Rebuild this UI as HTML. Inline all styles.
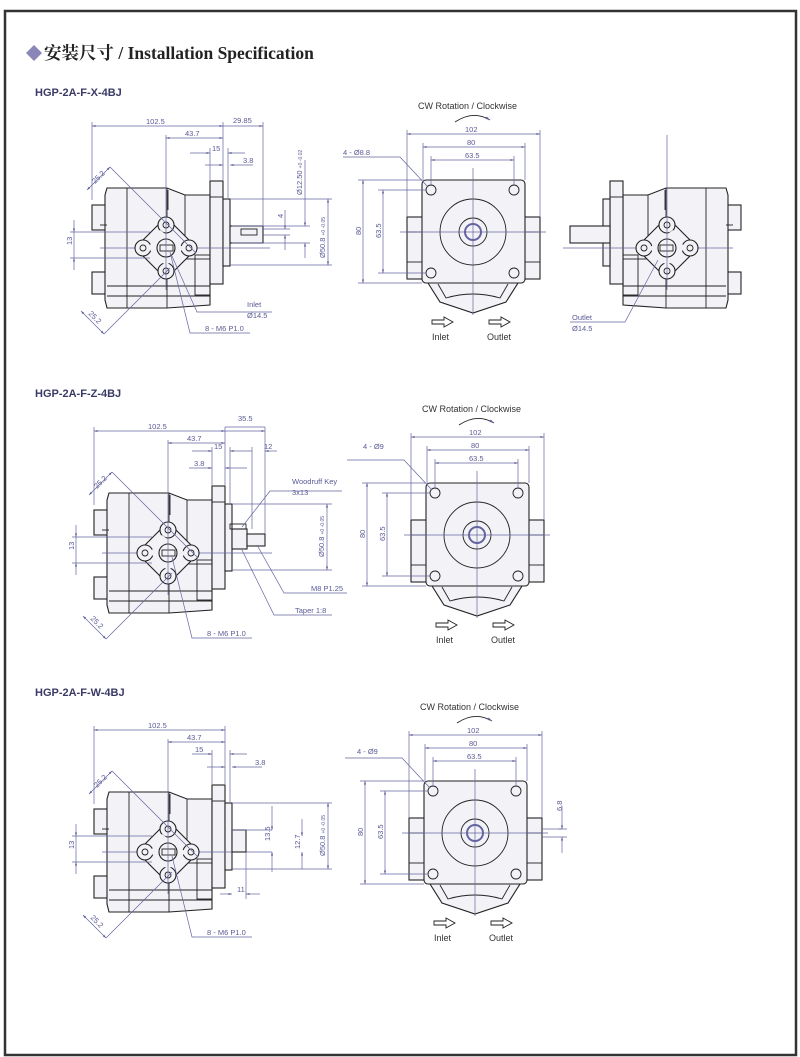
<!DOCTYPE html>
<html><head><meta charset="utf-8"><style>
html,body{margin:0;padding:0;background:#fff;}
body{width:800px;height:1057px;overflow:hidden;}
svg{display:block;}
.o{fill:#f3f3f7;stroke:#222;stroke-width:1.1;}
.n{fill:none;stroke:#222;stroke-width:0.9;}
.d{fill:none;stroke:#6464a0;stroke-width:0.7;}
.c{fill:none;stroke:#6464a0;stroke-width:0.7;}
.t{font-family:"Liberation Sans",sans-serif;font-size:7.5px;fill:#5a5a96;}
.l{font-family:"Liberation Sans",sans-serif;font-size:9px;fill:#333;}
.h{font-family:"Liberation Sans",sans-serif;font-size:11px;font-weight:bold;fill:#3a3a66;}
</style></head><body>
<svg width="800" height="1057" viewBox="0 0 800 1057" xmlns="http://www.w3.org/2000/svg">
<defs>
<marker id="a" viewBox="0 0 10 10" refX="10" refY="5" markerWidth="7" markerHeight="5" orient="auto-start-reverse"><path d="M0,2 L10,5 L0,8z" fill="#5a5a96"/></marker>
<g id="side">
 <rect class="o" x="92" y="205" width="14" height="25"/>
 <rect class="o" x="92" y="272" width="14" height="22"/>
 <path class="o" d="M105,195 L107,188 L167,188 L185,195 L210,195 L210,305 L167,308 L107,308 L105,300 Z"/>
 <line class="n" x1="127" y1="188" x2="127" y2="308"/>
 <line class="n" x1="100" y1="225" x2="107" y2="225"/>
 <line class="n" x1="107" y1="286" x2="210" y2="286"/>
 <line class="n" x1="107" y1="296" x2="210" y2="296"/>
 <line class="n" x1="167" y1="188" x2="167" y2="308"/>
 <rect class="n" x="185" y="195" width="25" height="64"/>
 <line class="n" x1="168" y1="190" x2="168" y2="210"/>
 <rect class="n" x="195" y="255" width="15" height="40"/>
 <rect class="o" x="210" y="181" width="13" height="103"/>
 <rect class="n" x="210" y="181" width="13" height="16"/>
 <rect class="o" x="223" y="199" width="7" height="67"/>
 <line class="c" x1="100" y1="248" x2="270" y2="248"/>
 <path class="o" d="M166,217 L197,248 L166,279 L135,248 Z"/>
 <circle class="o" cx="166" cy="225" r="8"/><circle class="o" cx="189" cy="248" r="8"/>
 <circle class="o" cx="166" cy="271" r="8"/><circle class="o" cx="143" cy="248" r="8"/>
 <path fill="#f3f3f7" d="M160,230 L184,248 L166,266 L148,248 Z"/>
 <circle class="n" cx="166" cy="225" r="3"/><circle class="n" cx="189" cy="248" r="3"/>
 <circle class="n" cx="166" cy="271" r="3"/><circle class="n" cx="143" cy="248" r="3"/>
 <circle class="o" cx="166" cy="248" r="9"/>
 <rect class="n" x="160" y="245" width="13" height="6"/>
 <line class="c" x1="166" y1="135" x2="166" y2="290"/>
</g>
<g id="front">
 <rect class="o" x="407" y="217" width="16" height="62"/>
 <rect class="o" x="524" y="217" width="16" height="62"/>
 <line class="n" x1="407" y1="232" x2="423" y2="232"/><line class="n" x1="407" y1="262" x2="423" y2="262"/>
 <line class="n" x1="524" y1="232" x2="540" y2="232"/><line class="n" x1="524" y1="262" x2="540" y2="262"/>
 <path class="o" d="M428,283 L440,302 L473,313 L506,302 L518,283 Z"/>
 <path class="n" d="M438,284 L446,298 Q473,290 500,298 L508,284"/>
 <rect class="o" x="422" y="180" width="103" height="103" rx="4"/>
 <circle class="n" cx="473" cy="232" r="33"/>
 <circle class="n" cx="473" cy="232" r="14"/>
 <circle fill="none" stroke="#6464a0" stroke-width="2" cx="473" cy="232" r="8"/>
 <circle class="n" cx="431" cy="190" r="5"/><circle class="n" cx="514" cy="190" r="5"/>
 <circle class="n" cx="431" cy="273" r="5"/><circle class="n" cx="514" cy="273" r="5"/>
 <line class="c" x1="400" y1="232" x2="546" y2="232"/>
 <line class="c" x1="473" y1="168" x2="473" y2="315"/>
 <text class="l" x="418" y="109">CW Rotation / Clockwise</text>
 <path d="M455,122 Q473,110 490,120" fill="none" stroke="#222" stroke-width="0.9" marker-end="url(#a)"/>
 <line class="d" x1="407" y1="134" x2="540" y2="134" marker-start="url(#a)" marker-end="url(#a)"/>
 <line class="d" x1="407" y1="130" x2="407" y2="217"/><line class="d" x1="540" y1="130" x2="540" y2="217"/>
 <text class="t" x="465" y="132">102</text>
 <line class="d" x1="423" y1="147" x2="525" y2="147" marker-start="url(#a)" marker-end="url(#a)"/>
 <line class="d" x1="423" y1="143" x2="423" y2="180"/><line class="d" x1="525" y1="143" x2="525" y2="180"/>
 <text class="t" x="467" y="145">80</text>
 <line class="d" x1="431" y1="160" x2="514" y2="160" marker-start="url(#a)" marker-end="url(#a)"/>
 <line class="d" x1="431" y1="156" x2="431" y2="186"/><line class="d" x1="514" y1="156" x2="514" y2="186"/>
 <text class="t" x="465" y="158">63.5</text>
 <line class="d" x1="363" y1="180" x2="363" y2="283" marker-start="url(#a)" marker-end="url(#a)"/>
 <line class="d" x1="358" y1="180" x2="422" y2="180"/><line class="d" x1="358" y1="283" x2="422" y2="283"/>
 <text class="t" transform="translate(361,235) rotate(-90)">80</text>
 <line class="d" x1="383" y1="190" x2="383" y2="273" marker-start="url(#a)" marker-end="url(#a)"/>
 <line class="d" x1="378" y1="190" x2="426" y2="190"/><line class="d" x1="378" y1="273" x2="426" y2="273"/>
 <text class="t" transform="translate(381,238) rotate(-90)">63.5</text>
 <path class="d" d="M343,157 L400,157 L428,187"/>
 <path d="M432,320 h12 v-3 l9,5 l-9,5 v-3 h-12z" fill="#fff" stroke="#222" stroke-width="0.9"/>
 <path d="M489,320 h12 v-3 l9,5 l-9,5 v-3 h-12z" fill="#fff" stroke="#222" stroke-width="0.9"/>
 <text class="l" x="432" y="340">Inlet</text><text class="l" x="487" y="340">Outlet</text>
</g>
<g id="sidedim">
 <line class="d" x1="92" y1="126" x2="223" y2="126" marker-start="url(#a)" marker-end="url(#a)"/>
 <line class="d" x1="92" y1="122" x2="92" y2="200"/><line class="d" x1="223" y1="122" x2="223" y2="180"/>
 <text class="t" x="146" y="124">102.5</text>
 <line class="d" x1="166" y1="138" x2="223" y2="138" marker-start="url(#a)" marker-end="url(#a)"/>
 <text class="t" x="185" y="136">43.7</text>
 <line class="d" x1="74" y1="232" x2="74" y2="258"/>
 <line class="d" x1="74" y1="220" x2="74" y2="232" marker-end="url(#a)"/>
 <line class="d" x1="74" y1="270" x2="74" y2="258" marker-end="url(#a)"/>
 <line class="d" x1="70" y1="232" x2="150" y2="232"/><line class="d" x1="70" y1="258" x2="150" y2="258"/>
 <text class="t" transform="translate(72,245) rotate(-90)">13</text>
 <line class="d" x1="110" y1="167" x2="196" y2="253"/>
 <line class="d" x1="87" y1="190" x2="110" y2="167" marker-start="url(#a)" marker-end="url(#a)"/>
 <text class="t" transform="translate(95,184) rotate(-45)">25.2</text>
 <line class="d" x1="104" y1="334" x2="170" y2="268"/>
 <line class="d" x1="81" y1="311" x2="104" y2="334" marker-start="url(#a)" marker-end="url(#a)"/>
 <text class="t" transform="translate(88,314) rotate(45)">25.2</text>
 <path class="d" d="M170,252 L190,333 L250,333"/>
 <text class="t" x="205" y="331">8 - M6  P1.0</text>
</g>
</defs>

<rect x="5" y="11" width="791" height="1044" fill="none" stroke="#333" stroke-width="2.5"/>
<path d="M26,53 l8,-8 l8,8 l-8,8z" fill="#8a86b8"/>
<text x="44" y="59" style="font-family:'Liberation Serif','Noto Serif CJK SC',serif;font-size:17.5px;font-weight:bold;fill:#222">安装尺寸 / Installation Specification</text>

<!-- Row 1 -->
<text class="h" x="35" y="96">HGP-2A-F-X-4BJ</text>
<use href="#side"/>
<use href="#sidedim"/>
<rect class="o" x="230" y="226" width="33" height="17"/>
<rect class="n" x="241" y="229" width="16" height="6"/>
<line class="d" x1="223" y1="126" x2="263" y2="126" marker-end="url(#a)"/>
<line class="d" x1="263" y1="122" x2="263" y2="226"/>
<text class="t" x="233" y="123">29.85</text>
<line class="d" x1="190" y1="153" x2="210" y2="153" marker-end="url(#a)"/>
<line class="d" x1="245" y1="153" x2="228" y2="153" marker-end="url(#a)"/>
<line class="d" x1="210" y1="148" x2="210" y2="180"/><line class="d" x1="228" y1="148" x2="228" y2="198"/>
<text class="t" x="212" y="151">15</text>
<line class="d" x1="205" y1="165" x2="223" y2="165" marker-end="url(#a)"/>
<line class="d" x1="253" y1="165" x2="230" y2="165" marker-end="url(#a)"/>
<text class="t" x="243" y="163">3.8</text>
<line class="d" x1="232" y1="226" x2="310" y2="226"/><line class="d" x1="232" y1="243" x2="310" y2="243"/>
<line class="d" x1="305" y1="160" x2="305" y2="226" marker-end="url(#a)"/>
<line class="d" x1="305" y1="258" x2="305" y2="243" marker-end="url(#a)"/>
<text class="t" transform="translate(302,195) rotate(-90)">Ø12.50 <tspan font-size="5">+0 -0.02</tspan></text>
<line class="d" x1="285" y1="210" x2="285" y2="229" marker-end="url(#a)"/>
<line class="d" x1="285" y1="250" x2="285" y2="235" marker-end="url(#a)"/>
<line class="d" x1="262" y1="229" x2="290" y2="229"/><line class="d" x1="262" y1="235" x2="290" y2="235"/>
<text class="t" transform="translate(283,218) rotate(-90)">4</text>
<line class="d" x1="230" y1="199" x2="332" y2="199"/><line class="d" x1="230" y1="265" x2="332" y2="265"/>
<line class="d" x1="328" y1="199" x2="328" y2="265" marker-start="url(#a)" marker-end="url(#a)"/>
<text class="t" transform="translate(325,258) rotate(-90)">Ø50.8 <tspan font-size="5">+0 -0.05</tspan></text>
<path class="d" d="M171,254 L197,312 L272,312"/>
<text class="t" x="247" y="307">Inlet</text><text class="t" x="247" y="318">Ø14.5</text>

<use href="#front"/>
<text class="t" x="343" y="155">4 - Ø8.8</text>

<use href="#side" transform="matrix(-1,0,0,1,833,0)"/>
<rect class="o" x="570" y="226" width="40" height="17"/>
<path class="d" d="M658,260 L625,322 L570,322"/>
<text class="t" x="572" y="320">Outlet</text><text class="t" x="572" y="331">Ø14.5</text>

<!-- Row 2 -->
<text class="h" x="35" y="397">HGP-2A-F-Z-4BJ</text>
<g transform="translate(2,305)">
<use href="#side"/>
<use href="#sidedim"/>
<rect class="o" x="230" y="224" width="15" height="20"/>
<rect class="o" x="245" y="229" width="18" height="12"/>
<rect class="n" x="228" y="219" width="16" height="5"/>
<line class="d" x1="223" y1="122" x2="263" y2="122"/>
<line class="d" x1="223" y1="126" x2="263" y2="126" marker-end="url(#a)"/>
<line class="d" x1="263" y1="122" x2="263" y2="229"/>
<text class="t" x="236" y="116">35.5</text>
<line class="d" x1="190" y1="146" x2="210" y2="146" marker-end="url(#a)"/>
<line class="d" x1="250" y1="146" x2="228" y2="146" marker-end="url(#a)"/>
<line class="d" x1="275" y1="146" x2="263" y2="146" marker-end="url(#a)"/>
<line class="d" x1="210" y1="142" x2="210" y2="180"/><line class="d" x1="228" y1="142" x2="228" y2="198"/>
<line class="d" x1="250" y1="142" x2="250" y2="224"/>
<text class="t" x="212" y="144">15</text><text class="t" x="262" y="144">12</text>
<line class="d" x1="187" y1="163" x2="210" y2="163" marker-end="url(#a)"/>
<line class="d" x1="245" y1="163" x2="223" y2="163" marker-end="url(#a)"/>
<text class="t" x="192" y="161">3.8</text>
<line class="d" x1="230" y1="199" x2="330" y2="199"/><line class="d" x1="230" y1="265" x2="330" y2="265"/>
<line class="d" x1="325" y1="199" x2="325" y2="265" marker-start="url(#a)" marker-end="url(#a)"/>
<text class="t" transform="translate(322,252) rotate(-90)">Ø50.8 <tspan font-size="5">+0 -0.05</tspan></text>
<path class="d" d="M240,222 L268,186 L340,186"/>
<text class="t" x="290" y="179">Woodruff Key</text><text class="t" x="290" y="190">3x13</text>
<path class="d" d="M255,240 L282,288 L345,288"/>
<text class="t" x="309" y="286">M8  P1.25</text>
<path class="d" d="M240,245 L272,310 L330,310"/>
<text class="t" x="293" y="308">Taper 1:8</text>
</g>
<g transform="translate(4,303)">
<use href="#front"/>
</g>
<text class="t" x="363" y="449">4 - Ø9</text>

<!-- Row 3 -->
<text class="h" x="35" y="696">HGP-2A-F-W-4BJ</text>
<g transform="translate(2,604)">
<use href="#side"/>
<use href="#sidedim"/>
<rect class="o" x="230" y="226" width="14" height="22"/>
<line class="d" x1="190" y1="150" x2="210" y2="150" marker-end="url(#a)"/>
<line class="d" x1="245" y1="150" x2="228" y2="150" marker-end="url(#a)"/>
<line class="d" x1="210" y1="146" x2="210" y2="180"/><line class="d" x1="228" y1="146" x2="228" y2="198"/>
<text class="t" x="193" y="148">15</text>
<line class="d" x1="205" y1="163" x2="223" y2="163" marker-end="url(#a)"/>
<line class="d" x1="260" y1="163" x2="230" y2="163" marker-end="url(#a)"/>
<text class="t" x="253" y="161">3.8</text>
<line class="d" x1="230" y1="226" x2="270" y2="226"/>
<line class="d" x1="270" y1="202" x2="270" y2="226" marker-end="url(#a)"/>
<line class="d" x1="270" y1="268" x2="270" y2="248" marker-end="url(#a)"/>
<text class="t" transform="translate(268,237) rotate(-90)">13.5</text>
<line class="d" x1="300" y1="215" x2="300" y2="232" marker-end="url(#a)"/>
<line class="d" x1="300" y1="265" x2="300" y2="248" marker-end="url(#a)"/>
<text class="t" transform="translate(298,245) rotate(-90)">12.7</text>
<line class="d" x1="230" y1="199" x2="330" y2="199"/><line class="d" x1="230" y1="265" x2="330" y2="265"/>
<line class="d" x1="326" y1="199" x2="326" y2="265" marker-start="url(#a)" marker-end="url(#a)"/>
<text class="t" transform="translate(323,252) rotate(-90)">Ø50.8 <tspan font-size="5">+0 -0.05</tspan></text>
<line class="d" x1="244" y1="248" x2="244" y2="295"/>
<line class="d" x1="218" y1="290" x2="230" y2="290" marker-end="url(#a)"/>
<line class="d" x1="258" y1="290" x2="244" y2="290" marker-end="url(#a)"/>
<text class="t" x="235" y="288">11</text>
</g>
<g transform="translate(2,601)">
<use href="#front"/>
<line class="d" x1="556" y1="228" x2="560" y2="228"/>
<line class="d" x1="560" y1="205" x2="560" y2="228" marker-end="url(#a)"/>
<line class="d" x1="560" y1="252" x2="560" y2="236" marker-end="url(#a)"/>
<line class="d" x1="540" y1="236" x2="565" y2="236"/><line class="d" x1="540" y1="228" x2="565" y2="228"/>
<text class="t" transform="translate(560,210) rotate(-90)">6.8</text>
</g>
<text class="t" x="357" y="754">4 - Ø9</text>
</svg>
</body></html>
